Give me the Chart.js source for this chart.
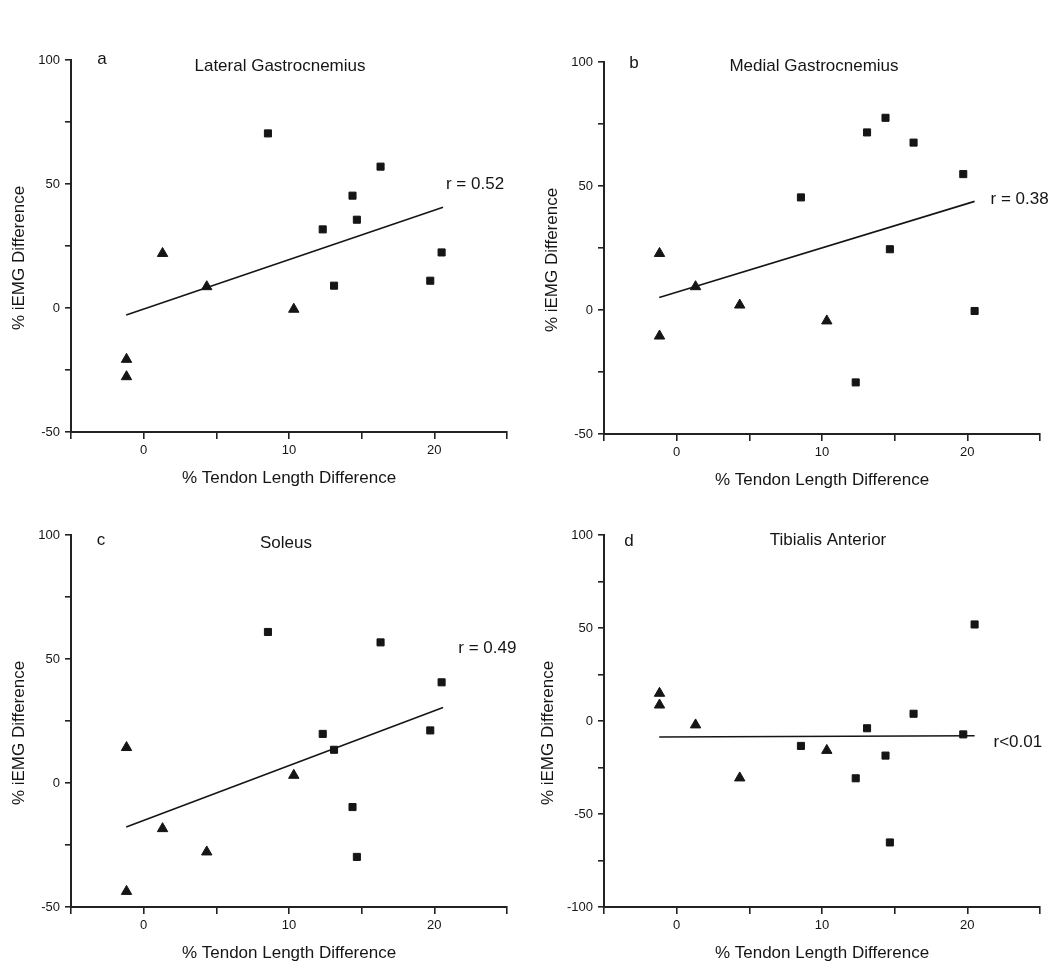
<!DOCTYPE html>
<html>
<head>
<meta charset="utf-8">
<script src="https://cdn.jsdelivr.net/npm/chart.js@4.4.1/dist/chart.umd.min.js"></script>
<style>
  body { margin: 0; background: #fff; overflow: hidden; }
  #page { position: relative; width: 1050px; height: 964px; }
  #page canvas { position: absolute; }
</style>
</head>
<body>
<div id="page"></div>
<script>
// tendon length difference (%) - squares / triangles, same subjects in every panel
const tendonSquares = [8.55, 12.32, 13.1, 14.37, 14.67, 16.3, 19.72, 20.5];
const tendonTriangles = [-1.18, -1.18, 1.3, 4.34, 10.33];

// iEMG difference (%) per muscle, in the order of the x arrays above
const latGastroSquares = [70.4, 31.7, 9.0, 45.3, 35.6, 57.0, 11.0, 22.4];
const latGastroTriangles = [-20.7, -27.7, 22.0, 8.6, -0.5];
const latGastroFit = [[-1.2, -2.8], [20.6, 40.6]];

const medGastroSquares = [45.4, -29.2, 71.6, 77.5, 24.5, 67.5, 54.8, -0.4];
const medGastroTriangles = [22.8, -10.5, 9.4, 2.0, -4.4];
const medGastroFit = [[-1.2, 5.0], [20.5, 43.8]];

const soleusSquares = [60.9, 19.8, 13.4, -9.7, -29.8, 56.7, 21.2, 40.6];
const soleusTriangles = [14.3, -43.7, -18.4, -27.8, 3.1];
const soleusFit = [[-1.2, -17.7], [20.6, 30.4]];

const tibAntSquares = [-13.4, -30.8, -3.9, -18.6, -65.3, 3.9, -7.2, 51.9];
const tibAntTriangles = [14.9, 8.6, -2.1, -30.6, -15.8];
const tibAntFit = [[-1.2, -8.6], [20.5, -7.9]];

const panelLetters = ['a', 'b', 'c', 'd'];
const panelTitles = ['Lateral Gastrocnemius', 'Medial Gastrocnemius', 'Soleus', 'Tibialis Anterior'];
const rLabels = ['r = 0.52', 'r = 0.38', 'r = 0.49', 'r<0.01'];
const rLabelAt = [[20.8, 50.0], [21.6, 44.8], [21.65, 54.4], [21.8, -11.7]];
const yMins = [-50, -50, -50, -100];
const yMax = 100;
const xMin = -5, xMax = 25;
const xTitle = '% Tendon Length Difference';
const yTitle = '% iEMG Difference';

const squaresByPanel = [latGastroSquares, medGastroSquares, soleusSquares, tibAntSquares];
const trianglesByPanel = [latGastroTriangles, medGastroTriangles, soleusTriangles, tibAntTriangles];
const fitsByPanel = [latGastroFit, medGastroFit, soleusFit, tibAntFit];

// page layout: canvas box and plot area (page px)
const layout = [
  { cx: 0,   cy: 0,   cw: 525, left: 71,  top: 60,  right: 507,  bottom: 432, letter: [31, -1], title: [-9, 6.7], yTitleGap: 52 },
  { cx: 525, cy: 0,   cw: 525, left: 604, top: 62,  right: 1040, bottom: 434, letter: [30, 1],  title: [-8, 4],   yTitleGap: 52 },
  { cx: 0,   cy: 482, cw: 525, left: 71,  top: 535, right: 507,  bottom: 907, letter: [30, 5],  title: [-3, 8.3], yTitleGap: 52 },
  { cx: 525, cy: 482, cw: 525, left: 604, top: 535, right: 1040, bottom: 907, letter: [25, 6],  title: [6, 5],    yTitleGap: 56 }
];
const X_SCALE_H = 57;
const FONT = '"Liberation Sans", Arial, sans-serif';
const INK = '#151515';

const panelText = {
  id: 'panelText',
  afterDraw(chart, args, opts) {
    const { ctx, chartArea: a, scales: { x, y } } = chart;
    ctx.save();
    ctx.fillStyle = INK;
    ctx.font = '17px ' + FONT;
    ctx.textBaseline = 'middle';
    ctx.textAlign = 'center';
    ctx.fillText(opts.letter, a.left + opts.box.letter[0], a.top + opts.box.letter[1]);
    ctx.fillText(opts.title, (a.left + a.right) / 2 + opts.box.title[0], a.top + opts.box.title[1]);
    ctx.textAlign = 'left';
    ctx.fillText(opts.r, x.getPixelForValue(opts.rAt[0]), y.getPixelForValue(opts.rAt[1]));
    ctx.translate(a.left - opts.box.yTitleGap, (a.top + a.bottom) / 2 + 12);
    ctx.rotate(-Math.PI / 2);
    ctx.textAlign = 'center';
    ctx.fillText(yTitle, 0, 0);
    ctx.restore();
  }
};

const page = document.getElementById('page');

layout.forEach((box, i) => {
  const canvas = document.createElement('canvas');
  const ch = box.bottom - box.cy + X_SCALE_H;
  canvas.width = box.cw;
  canvas.height = ch;
  canvas.style.left = box.cx + 'px';
  canvas.style.top = box.cy + 'px';
  canvas.style.width = box.cw + 'px';
  canvas.style.height = ch + 'px';
  page.appendChild(canvas);

  new Chart(canvas.getContext('2d'), {
    type: 'scatter',
    data: {
      datasets: [
        {
          type: 'line',
          data: fitsByPanel[i].map(p => ({ x: p[0], y: p[1] })),
          borderColor: INK,
          borderWidth: 1.6,
          pointRadius: 0,
          fill: false
        },
        {
          data: tendonSquares.map((v, k) => ({ x: v, y: squaresByPanel[i][k] })),
          pointStyle: 'rect',
          pointRadius: 5,
          backgroundColor: INK,
          borderColor: INK,
          borderWidth: 1
        },
        {
          data: tendonTriangles.map((v, k) => ({ x: v, y: trianglesByPanel[i][k] })),
          pointStyle: 'triangle',
          pointRadius: 6,
          backgroundColor: INK,
          borderColor: INK,
          borderWidth: 1
        }
      ]
    },
    options: {
      responsive: false,
      animation: false,
      layout: {
        padding: { left: 0, top: box.top - box.cy, right: box.cx + box.cw - box.right, bottom: 0 }
      },
      plugins: {
        legend: { display: false },
        tooltip: { enabled: false },
        panelText: {
          letter: panelLetters[i], title: panelTitles[i], r: rLabels[i], rAt: rLabelAt[i], box: box
        }
      },
      scales: {
        x: {
          type: 'linear',
          min: xMin,
          max: xMax,
          afterFit: s => { s.height = X_SCALE_H; },
          border: { display: true, color: '#222', width: 2 },
          grid: { drawOnChartArea: false, drawTicks: true, tickLength: 7, color: '#222', lineWidth: 1.6 },
          ticks: {
            stepSize: 5,
            maxRotation: 0,
            autoSkip: false,
            padding: 4,
            color: INK,
            font: { family: FONT, size: 13 },
            callback: v => (v % 10 === 0 && v >= 0 && v <= 20) ? v : ''
          },
          title: {
            display: true,
            text: xTitle,
            color: INK,
            font: { family: FONT, size: 17 },
            padding: { top: 0, bottom: 0.8 }
          }
        },
        y: {
          type: 'linear',
          min: yMins[i],
          max: yMax,
          afterFit: s => { s.width = box.left - box.cx; },
          border: { display: true, color: '#222', width: 2 },
          grid: { drawOnChartArea: false, drawTicks: true, tickLength: 6, color: '#222', lineWidth: 1.6 },
          ticks: {
            stepSize: 25,
            autoSkip: false,
            padding: 5,
            color: INK,
            font: { family: FONT, size: 13 },
            callback: v => (v % 50 === 0) ? v : ''
          }
        }
      }
    },
    plugins: [panelText]
  });
});
</script>
</body>
</html>
